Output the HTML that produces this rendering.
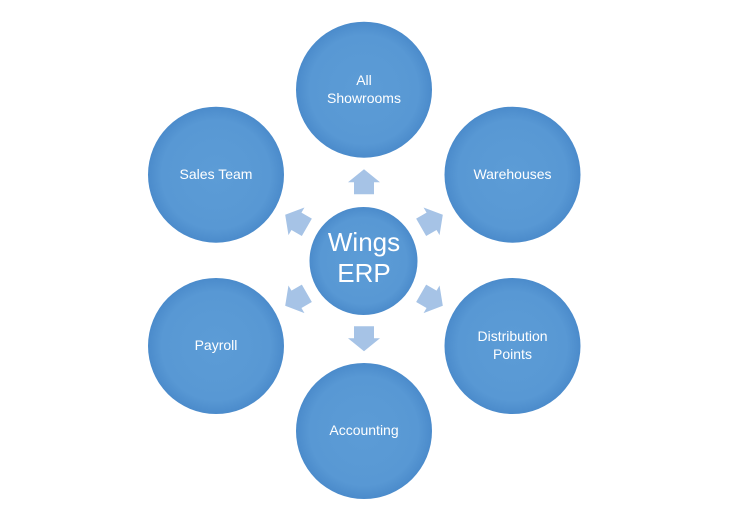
<!DOCTYPE html>
<html>
<head>
<meta charset="utf-8">
<style>
  html,body{margin:0;padding:0;background:#fff;}
  svg{display:block;}
  text{font-family:"Liberation Sans",sans-serif;fill:#fff;text-anchor:middle;}
</style>
</head>
<body>
<svg width="744" height="507" viewBox="0 0 744 507" xmlns="http://www.w3.org/2000/svg">
  <defs>
    <radialGradient id="g" cx="50%" cy="50%" r="50%">
      <stop offset="0%" stop-color="#5c9cd6"/>
      <stop offset="80%" stop-color="#5898d4"/>
      <stop offset="100%" stop-color="#4b8bcb"/>
    </radialGradient>
    <polygon id="arr" points="-10,-66 10,-66 10,-78 16,-78 0,-91 -16,-78 -10,-78" fill="#a6c3e6"/>
  </defs>

  <!-- arrows -->
  <g transform="translate(364,260.3)">
    <use href="#arr" transform="rotate(0)"/>
    <use href="#arr" transform="rotate(60)"/>
    <use href="#arr" transform="rotate(120)"/>
    <use href="#arr" transform="rotate(180)"/>
    <use href="#arr" transform="rotate(240)"/>
    <use href="#arr" transform="rotate(300)"/>
  </g>

  <!-- center -->
  <circle cx="363.5" cy="261" r="54" fill="url(#g)"/>
  <text x="364" y="251" font-size="26">Wings</text>
  <text x="364" y="282" font-size="26">ERP</text>

  <!-- outer circles -->
  <circle cx="364" cy="89.7" r="68" fill="url(#g)"/>
  <text x="364" y="85" font-size="14">All</text>
  <text x="364" y="103" font-size="14">Showrooms</text>

  <circle cx="512.5" cy="174.7" r="68" fill="url(#g)"/>
  <text x="512.5" y="179" font-size="14">Warehouses</text>

  <circle cx="512.5" cy="346" r="68" fill="url(#g)"/>
  <text x="512.5" y="341" font-size="14">Distribution</text>
  <text x="512.5" y="359" font-size="14">Points</text>

  <circle cx="364" cy="431" r="68" fill="url(#g)"/>
  <text x="364" y="435" font-size="14">Accounting</text>

  <circle cx="216" cy="346" r="68" fill="url(#g)"/>
  <text x="216" y="350" font-size="14">Payroll</text>

  <circle cx="216" cy="174.7" r="68" fill="url(#g)"/>
  <text x="216" y="179" font-size="14">Sales Team</text>
</svg>
</body>
</html>
